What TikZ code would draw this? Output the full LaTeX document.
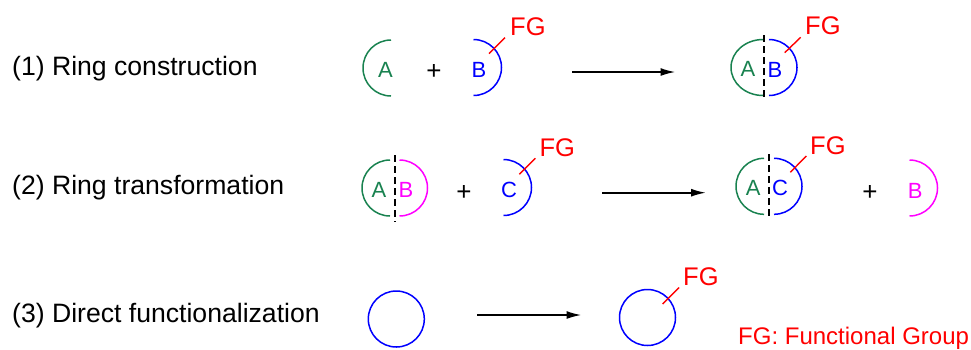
\documentclass[tikz,border=0pt]{standalone}
\usepackage{fontspec}
\setmainfont{Liberation Sans}
\usetikzlibrary{arrows.meta}
\definecolor{ringgreen}{RGB}{25,130,80}
\definecolor{ringpink}{RGB}{255,0,255}
\definecolor{ringblue}{RGB}{0,0,255}
\definecolor{fgred}{RGB}{255,0,0}

\begin{document}
\begin{tikzpicture}[x=1pt,y=-1pt,
  title/.style={anchor=base west,inner sep=0pt,font=\fontsize{26.6}{30}\selectfont},
  letter/.style={inner sep=0pt,font=\fontsize{22}{25}\selectfont},
  plus/.style={inner sep=0pt,font=\fontsize{26}{30}\selectfont},
  fg/.style={anchor=west,inner sep=0pt,text=fgred,font=\fontsize{25.5}{30}\selectfont},
  ring/.style={line width=1.5pt},
  bond/.style={draw=fgred,line width=1.4pt},
  cut/.style={draw=black,line width=2.4pt,dash pattern=on 6.5pt off 4.5pt},
  rxn/.style={-{Latex[length=15pt,width=8pt]},draw=black,line width=1.8pt}]
  \useasboundingbox (0,0) rectangle (971,349);
  \node[title] (one) at (12,75) {(1) Ring construction};
  \node[title] (two) at (12,194) {(2) Ring transformation};
  \node[title] (three) at (12,322) {(3) Direct functionalization};
  % row 1
  \draw[ring,ringgreen] (391,40) arc[start angle=90,end angle=270,radius=28pt];
  \node[letter,text=ringgreen] (a1) at (385.5,69.5) {A};
  \node[plus] (p1) at (434,72) {+};
  \draw[ring,ringblue] (473.5,39.5) arc[start angle=90,end angle=-90,radius=28pt];
  \node[letter,text=ringblue] (b1) at (479,70) {B};
  \coordinate (b1s) at (489,53.7);
  \node[fg] (fg1) at (510,27) {FG};
  \coordinate (b1e) at (505,37.7);
  \draw[bond] (b1s) -- (b1e);
  \coordinate (r1s) at (572,72);
  \coordinate (r1e) at (675.5,72);
  \draw[rxn] (r1s) -- (r1e);
  \draw[ring,ringgreen] (763,39.5) arc[start angle=90,end angle=270,x radius=32pt,y radius=28pt];
  \draw[ring,ringblue] (769,39.5) arc[start angle=90,end angle=-90,radius=28pt];
  \coordinate (c1t) at (764,35);
  \coordinate (c1b) at (764,100);
  \draw[cut] (c1t) -- (c1b);
  \node[letter,text=ringgreen] (a2) at (748,69) {A};
  \node[letter,text=ringblue] (b2) at (775,70) {B};
  \coordinate (b2s) at (784.7,52.7);
  \coordinate (b2e) at (800.7,37.3);
  \draw[bond] (b2s) -- (b2e);
  \node[fg] (fg2) at (805,26) {FG};
  % row 2
  \draw[ring,ringgreen] (390,160) arc[start angle=90,end angle=270,radius=28pt];
  \draw[ring,ringpink] (399.5,160) arc[start angle=90,end angle=-90,radius=28pt];
  \coordinate (c2t) at (395,155);
  \coordinate (c2b) at (395,221.5);
  \draw[cut] (c2t) -- (c2b);
  \node[letter,text=ringgreen] (a3) at (379,190) {A};
  \node[letter,text=ringpink] (b3) at (406,190) {B};
  \node[plus] (p2) at (464,192.7) {+};
  \draw[ring,ringblue] (503.5,159.5) arc[start angle=90,end angle=-90,radius=28pt];
  \node[letter,text=ringblue] (c3) at (509,190.3) {C};
  \coordinate (b3s) at (519.3,174.3);
  \coordinate (b3e) at (535.3,158.3);
  \draw[bond] (b3s) -- (b3e);
  \node[fg] (fg3) at (539.3,147.3) {FG};
  \coordinate (r2s) at (602,192.7);
  \coordinate (r2e) at (706,192.7);
  \draw[rxn] (r2s) -- (r2e);
  \draw[ring,ringgreen] (764,158.3) arc[start angle=90,end angle=270,radius=28pt];
  \draw[ring,ringblue] (774,158.3) arc[start angle=90,end angle=-90,radius=28pt];
  \coordinate (c3t) at (769,154.3);
  \coordinate (c3b) at (769,219.5);
  \draw[cut] (c3t) -- (c3b);
  \node[letter,text=ringgreen] (a4) at (753.3,188) {A};
  \node[letter,text=ringblue] (c4) at (780,188) {C};
  \coordinate (b4s) at (790.3,172.3);
  \coordinate (b4e) at (806.3,156);
  \draw[bond] (b4s) -- (b4e);
  \node[fg] (fg4) at (810,145.7) {FG};
  \node[plus] (p3) at (870,192.7) {+};
  \draw[ring,ringpink] (909.5,160) arc[start angle=90,end angle=-90,radius=28pt];
  \node[letter,text=ringpink] (b5) at (915.3,190.7) {B};
  % row 3
  \node[draw=ringblue,circle,ring,minimum size=56pt,inner sep=0pt] (r1) at (396.3,319) {};
  \coordinate (r3s) at (477,315);
  \coordinate (r3e) at (581.5,315);
  \draw[rxn] (r3s) -- (r3e);
  \node[draw=ringblue,circle,ring,minimum size=56pt,inner sep=0pt] (r2) at (647.5,317.5) {};
  \coordinate (b5s) at (662.7,304);
  \coordinate (b5e) at (679,287.5);
  \draw[bond] (b5s) -- (b5e);
  \node[fg] (fg5) at (683,277) {FG};
  \node[anchor=base west,inner sep=0pt,text=fgred,font=\fontsize{24}{26}\selectfont] (legend) at (738,344) {FG: Functional Group};
\end{tikzpicture}
\end{document}
